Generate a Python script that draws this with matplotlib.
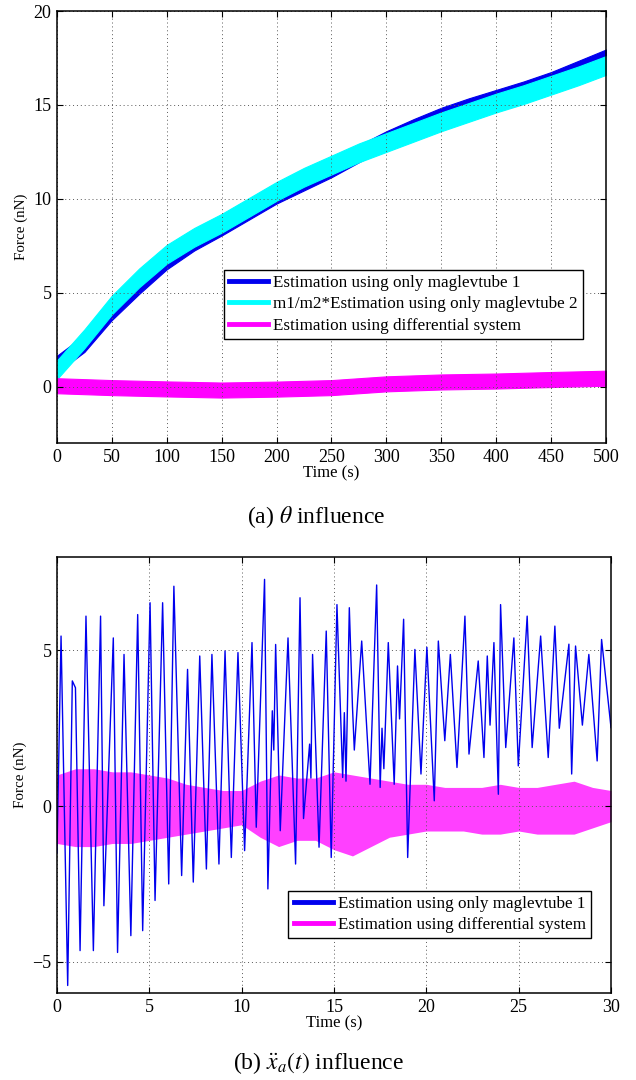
import numpy as np
import matplotlib
matplotlib.use('Agg')
import matplotlib.pyplot as plt

plt.rcParams['font.family'] = ['Liberation Serif', 'DejaVu Serif']
plt.rcParams['mathtext.fontset'] = 'stix'

# ---- (a) theta influence: band centres read every 25 s, half widths of the noise band
t_a = [0, 25, 50, 75, 100, 125, 150, 175, 200, 225, 250, 275, 300, 325, 350, 375, 400, 425, 450, 475, 500]
tube1_a = [1.2, 2.3, 4.0, 5.4, 6.7, 7.7, 8.5, 9.35, 10.2, 10.9, 11.6, 12.4, 13.15, 13.8, 14.4, 14.9, 15.35,
           15.8, 16.3, 16.9, 17.5]
tube2_a = [0.9, 2.55, 4.35, 5.8, 7.05, 7.95, 8.7, 9.55, 10.4, 11.15, 11.8, 12.45, 13.0, 13.55, 14.1, 14.6, 15.1,
           15.55, 16.05, 16.55, 17.1]
t_diff_a = [0, 50, 100, 150, 200, 250, 300, 350, 400, 450, 500]
diff_a = [0.05, -0.05, -0.12, -0.18, -0.13, -0.05, 0.15, 0.25, 0.3, 0.38, 0.45]
hw_tube1, hw_tube2, hw_diff = 0.45, 0.5, 0.4

# ---- (b) acceleration influence: extrema of maglevtube 1 estimate (time s, force nN)
t_b = [0.0, 0.22, 0.58, 0.83, 1.0, 1.25, 1.57, 1.97, 2.36, 2.54, 3.05, 3.28, 3.63, 4.0, 4.37, 4.64, 5.04,
       5.31, 5.72, 6.05, 6.33, 6.75, 7.07, 7.38, 7.73, 8.09, 8.39, 8.77, 9.10, 9.44, 9.80, 10.16, 10.56,
       10.79, 11.24, 11.42, 11.66, 11.74, 11.84, 12.09, 12.51, 12.92, 13.16, 13.35, 13.68, 13.75, 13.84,
       14.19, 14.58, 14.85, 15.16, 15.47, 15.56, 15.65, 15.83, 16.0, 16.1, 16.5, 16.95, 17.31, 17.5, 17.6,
       17.7, 17.94, 18.26, 18.44, 18.55, 18.77, 18.99, 19.38, 19.71, 20.03, 20.43, 20.65, 21.0, 21.3, 21.66,
       22.09, 22.31, 22.81, 23.12, 23.3, 23.45, 23.66, 23.9, 24.02, 24.3, 24.74, 24.98, 25.46, 25.73, 26.19,
       26.6, 26.96, 27.2, 27.72, 27.87, 28.08, 28.45, 28.8, 29.25, 29.49, 30.0]
tube1_b = [-1.5, 5.46, -5.76, 4.02, 3.8, -4.64, 6.1, -4.64, 6.1, -3.2, 5.4, -4.7, 4.87, -4.16, 6.15, -4.0, 6.53,
           -3.03, 6.53, -2.5, 7.06, -2.23, 4.39, -2.44, 4.82, -2.02, 4.87, -1.86, 4.98, -1.65, 4.93, -1.43, 5.25,
           -0.68, 7.28, -2.66, 3.06, 1.8, 5.19, -0.79, 5.4, -1.86, 6.69, -0.4, 1.99, 0.9, 4.87,
           -1.32, 5.62, -1.65, 6.47, 0.92, 3.0, 0.8, 6.37, 3.2, 1.8, 5.3, 0.7, 7.1, 0.6, 2.5,
           1.2, 5.25, 0.7, 4.5, 2.8, 6.0, -1.65, 5.03, 1.03, 5.1, 0.17, 5.3, 2.1, 4.87, 1.24,
           6.1, 1.67, 4.66, 1.56, 4.82, 2.6, 5.25, 0.38, 6.47, 1.88, 5.4, 1.29, 6.1, 1.88, 5.46,
           1.56, 5.78, 2.5, 5.2, 1.03, 5.14, 2.6, 4.87, 1.45, 5.35, 2.52]

# differential estimate: noise envelope read each second
t_env = list(range(31))
diff_up = [1.0, 1.2, 1.2, 1.1, 1.1, 1.0, 0.9, 0.7, 0.6, 0.5, 0.5, 0.8, 1.0, 0.9, 0.9, 1.1, 1.0, 0.9, 0.8, 0.7,
           0.7, 0.6, 0.6, 0.6, 0.7, 0.6, 0.6, 0.7, 0.8, 0.6, 0.5]
diff_lo = [-1.2, -1.3, -1.3, -1.2, -1.2, -1.1, -1.0, -0.9, -0.8, -0.7, -0.6, -1.0, -1.3, -1.1, -1.1, -1.4, -1.6,
           -1.3, -1.0, -0.9, -0.8, -0.8, -0.8, -0.9, -0.9, -0.8, -0.9, -0.9, -0.9, -0.7, -0.5]

lab1 = 'Estimation using only maglevtube 1'
lab2 = 'm1/m2*Estimation using only maglevtube 2'
lab3 = 'Estimation using differential system'

fig = plt.figure(figsize=(6.36, 10.8), dpi=100)
ax1 = fig.add_axes([0.0896, 0.5898, 0.8632, 0.4000])
ax2 = fig.add_axes([0.0896, 0.0806, 0.8711, 0.4037])


def style(ax):
    ax.grid(True, linestyle=(0, (1, 3)), color='0.35', linewidth=0.7)
    ax.tick_params(direction='in', top=True, right=True, length=4, labelsize=13, width=0.8, pad=4)
    for s in ax.spines.values():
        s.set_linewidth(1.1)
    ax.set_xlabel('Time (s)', fontsize=12, labelpad=0)
    ax.set_ylabel('Force (nN)', fontsize=10.8, labelpad=4)


# top panel
t = np.array(t_a)
ax1.fill_between(t, np.array(tube1_a) - hw_tube1, np.array(tube1_a) + hw_tube1, color='#0000ee', lw=0.8)
ax1.fill_between(t, np.array(tube2_a) - hw_tube2, np.array(tube2_a) + hw_tube2, color='#00ffff', lw=0.8)
td = np.array(t_diff_a)
ax1.fill_between(td, np.array(diff_a) - hw_diff, np.array(diff_a) + hw_diff, color='#ff00ff', lw=0.8)
h1, = ax1.plot([], [], color='#0000ee', lw=3.5, label=lab1)
h2, = ax1.plot([], [], color='#00ffff', lw=3.5, label=lab2)
h3, = ax1.plot([], [], color='#ff00ff', lw=3.5, label=lab3)
ax1.set_xlim(0, 500)
ax1.set_ylim(-3, 20)
ax1.set_xticks(range(0, 501, 50))
ax1.set_yticks([0, 5, 10, 15, 20])
style(ax1)
ax1.legend(handles=[h1, h2, h3], loc='upper right', bbox_to_anchor=(0.958, 0.40), fontsize=12.3,
           fancybox=False, edgecolor='black', framealpha=1, handlelength=2.3, handletextpad=0.3,
           borderpad=0.3, labelspacing=0.3, borderaxespad=0)

# bottom panel
ax2.plot(t_b, tube1_b, color='#0000ee', lw=1.0)
ax2.fill_between(t_env, diff_lo, diff_up, color='#ff00ff', alpha=0.75, lw=0)
g1, = ax2.plot([], [], color='#0000ee', lw=3.5, label=lab1)
g3, = ax2.plot([], [], color='#ff00ff', lw=3.5, label=lab3)
ax2.set_xlim(0, 30)
ax2.set_ylim(-6, 8)
ax2.set_xticks(range(0, 31, 5))
ax2.set_yticks([-5, 0, 5])
ax2.set_yticklabels(['\u22125', '0', '5'])
style(ax2)
ax2.legend(handles=[g1, g3], loc='upper right', bbox_to_anchor=(0.964, 0.234), fontsize=12.3,
           fancybox=False, edgecolor='black', framealpha=1, handlelength=2.3, handletextpad=0.3,
           borderpad=0.3, labelspacing=0.3, borderaxespad=0)

fig.text(0.497, 0.521, r'(a) $\theta$ influence', ha='center', va='center', fontsize=17)
fig.text(0.5, 0.0157, r'(b) $\ddot{x}_a(t)$ influence', ha='center', va='center', fontsize=17)

fig.savefig('out.png', dpi=100)
